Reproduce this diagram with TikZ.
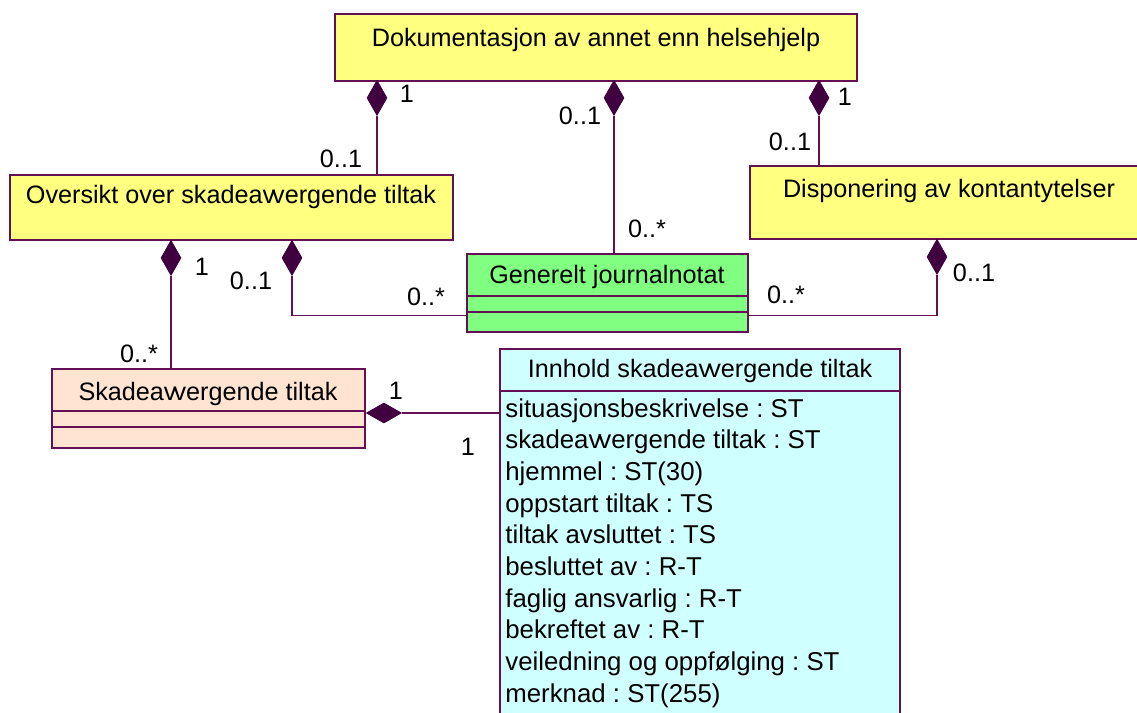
\documentclass[tikz,border=0pt]{standalone}
\usepackage{fontspec}
\setmainfont{Liberation Sans}
\usetikzlibrary{shapes.geometric,calc}
\frenchspacing

\definecolor{umlyellow}{RGB}{255,255,128}
\definecolor{umlgreen}{RGB}{128,255,128}
\definecolor{umlpeach}{RGB}{255,228,210}
\definecolor{umlcyan}{RGB}{208,255,255}
\definecolor{umlborder}{RGB}{100,16,84}
\definecolor{umldiamond}{RGB}{64,0,64}
\newcommand{\skvv}{skadeav\kern-0.12em vergende}

\begin{document}
\begin{tikzpicture}[x=0.5pt,y=-0.5pt,
  every node/.style={font=\fontsize{12.6}{15}\selectfont, inner sep=0pt},
  classbox/.style={rectangle, draw=umlborder, line width=0.75pt, anchor=north west},
  comp/.style={diamond, draw=umldiamond, fill=umldiamond, minimum width=10pt, minimum height=17.5pt},
  assoc/.style={draw=umlborder, line width=0.75pt}]
  \useasboundingbox (0,0) rectangle (1137,713);
  \clip (0,0) rectangle (1137,713);

  % Class boxes
  \node[classbox, fill=umlyellow, minimum width=261pt, minimum height=33.5pt] (dok) at (334,13) {};
  \node[classbox, fill=umlyellow, minimum width=221.5pt, minimum height=32.5pt] (ovs) at (9,174) {};
  \node[classbox, fill=umlyellow, minimum width=200pt, minimum height=36.5pt] (dis) at (749,165) {};
  \node[classbox, fill=umlgreen, minimum width=140.5pt, minimum height=39pt] (gen) at (466,253) {};
  \node[classbox, fill=umlpeach, minimum width=156.5pt, minimum height=39.5pt] (ska) at (51,368) {};
  \node[classbox, fill=umlcyan, minimum width=200pt, minimum height=190pt] (inn) at (499,348) {};

  % Compartments
  \foreach \cls in {gen,ska} {
    \draw[assoc] ([yshift=-21.5pt]\cls.north west) -- ([yshift=-21.5pt]\cls.north east);
    \draw[assoc] ([yshift=-29.5pt]\cls.north west) -- ([yshift=-29.5pt]\cls.north east);
  }
  \draw[assoc] ([yshift=-21.5pt]inn.north west) -- ([yshift=-21.5pt]inn.north east);

  % Class names
  \node[anchor=base] (dokname) at (596,46) {Dokumentasjon av annet enn helsehjelp};
  \node[anchor=base] (ovsname) at (231,203) {Oversikt over \skvv\ tiltak};
  \node[anchor=base] (disname) at (949,197) {Disponering av kontantytelser};
  \node[anchor=base] (genname) at (607,283) {Generelt journalnotat};
  \node[anchor=base] (skaname) at (208,400) {Skadeav\kern-0.12em vergende tiltak};
  \node[anchor=base] (innname) at (700,377) {Innhold \skvv\ tiltak};

  % Attributes
  \foreach \attr [count=\i] in {situasjonsbeskrivelse : ST, \skvv\ tiltak : ST,
      hjemmel : ST(30), oppstart tiltak : TS, tiltak avsluttet : TS, besluttet av : R-T,
      faglig ansvarlig : R-T, bekreftet av : R-T, veiledning og oppfølging : ST, merknad : ST(255)} {
    \node[anchor=base west, font=\fontsize{12.9}{15}\selectfont] (attr\i) at (505,{417+(\i-1)*31.67}) {\attr};
  }

  % Aggregation diamonds
  \node[comp, anchor=north] (d1) at (377,80) {};
  \node[comp, anchor=north] (d2) at (614,80) {};
  \node[comp, anchor=north] (d3) at (819,80) {};
  \node[comp, anchor=north] (d4) at (171,240) {};
  \node[comp, anchor=north] (d5) at (292,240) {};
  \node[comp, anchor=north] (d6) at (937,239) {};
  \node[comp, anchor=west, minimum width=17.5pt, minimum height=10pt] (d7) at (366,413) {};

  % Associations
  \draw[assoc] (d1.south) -- (d1.south |- ovs.north);
  \draw[assoc] (d2.south) -- (d2.south |- gen.north);
  \draw[assoc] (d3.south) -- (d3.south |- dis.north);
  \draw[assoc] (d4.south) -- (d4.south |- ska.north);
  \draw[assoc] (d5.south) |- ([yshift=8.5pt]gen.south west);
  \draw[assoc] (d6.south) |- ([yshift=8.5pt]gen.south east);
  \draw[assoc] (d7.east) -- (d7.east -| inn.west);

  % Multiplicities
  \node (m1) at (407,94) {1};
  \node (m2) at (341,159) {0..1};
  \node (m3) at (580,116) {0..1};
  \node (m4) at (647,229) {0..*};
  \node (m5) at (845,97) {1};
  \node (m6) at (790,142) {0..1};
  \node (m7) at (202,267) {1};
  \node (m8) at (251,281) {0..1};
  \node (m9) at (426,297) {0..*};
  \node (m10) at (139,354) {0..*};
  \node (m11) at (786,295) {0..*};
  \node (m12) at (974,273) {0..1};
  \node (m13) at (396,391) {1};
  \node (m14) at (468,447) {1};
\end{tikzpicture}
\end{document}
